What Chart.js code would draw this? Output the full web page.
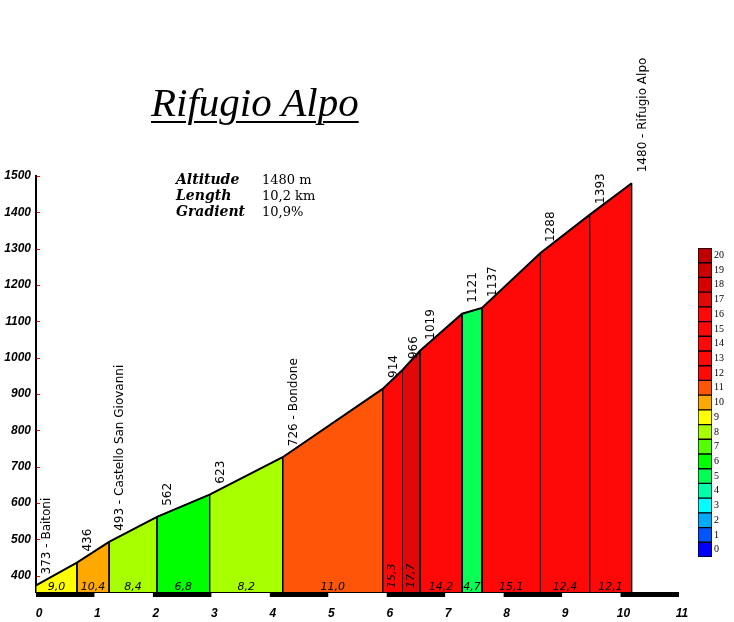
<!DOCTYPE html>
<html>
<head>
<meta charset="utf-8">
<script src="https://cdn.jsdelivr.net/npm/chart.js@4.4.0/dist/chart.umd.min.js"></script>
<style>
  body { margin: 0; background: #fff; }
  #campo { position: relative; width: 734px; height: 622px; overflow: hidden; }
  #profilo { position: absolute; left: 0; top: 0; }
  #legenda { position: absolute; left: 698px; top: 240px; }
  .titolo { position: absolute; left: 151px; top: 82px; font: italic 41px/40px "Liberation Serif"; color: #000;
            text-decoration: underline; text-decoration-thickness: 2px; text-underline-offset: 5px; white-space: nowrap; }
  .info { position: absolute; left: 176px; font: 13px/16px "DejaVu Serif"; color: #000; white-space: nowrap; }
  .info b { display: inline-block; width: 86px; font: italic bold 14px/16px "DejaVu Serif"; }
</style>
</head>
<body>
<div id="campo">
  <canvas id="profilo" width="734" height="622"></canvas>
  <canvas id="legenda" width="36" height="325"></canvas>
  <div class="titolo">Rifugio Alpo</div>
  <div class="info" style="top:171px"><b>Altitude</b>1480 m</div>
  <div class="info" style="top:187px"><b>Length</b>10,2 km</div>
  <div class="info" style="top:203px"><b>Gradient</b>10,9%</div>
</div>
<script>
// punti del profilo
const km = [0, 0.70, 1.25, 2.07, 2.97, 4.22, 5.93, 6.27, 6.57, 7.29, 7.63, 8.63, 9.47, 10.19];
const quote = [373, 436, 493, 562, 623, 726, 914, 966, 1019, 1121, 1137, 1288, 1393, 1480];
const nomi = ['Baitoni', '', 'Castello San Giovanni', '', '', 'Bondone', '', '', '', '', '', '', '', 'Rifugio Alpo'];

// tratti
const pendenze = ['9,0', '10,4', '8,4', '6,8', '8,2', '11,0', '15,3', '17,7', '14,2', '4,7', '15,1', '12,4', '12,1'];
const coloriTratti = ['#ffff00', '#ffa800', '#a8ff00', '#00ff00', '#a8ff00', '#ff5508', '#ff0808', '#e00808',
                      '#ff0808', '#08ff55', '#ff0808', '#ff0808', '#ff0808'];

// assi
const yMin = 355, yMax = 1500, yPasso = 100;
const xMin = 0, xMax = 11;

// legenda pendenze
const legendaLivelli = ['20', '19', '18', '17', '16', '15', '14', '13', '12', '11', '10',
                        '9', '8', '7', '6', '5', '4', '3', '2', '1', '0'];
const legendaColori = ['#c00000', '#cc0000', '#d80000', '#e20808', '#ff0808', '#ff0808', '#ff0808', '#ff0808',
                       '#ff0808', '#ff5508', '#ffa800', '#ffff00', '#a8ff00', '#55ff00', '#00ff00', '#00ff55',
                       '#00ffaa', '#00ffff', '#00aaff', '#0055ff', '#0000ff'];

const fontAssi = { family: 'Liberation Sans', size: 12, style: 'italic', weight: 'bold' };

// dataset: prima il profilo (disegnato sopra), poi un'area per tratto
const datasets = [{
  data: km.map((k, i) => ({ x: k, y: quote[i] })),
  borderColor: '#000',
  borderWidth: 2,
  fill: false
}];
for (let i = 0; i < pendenze.length; i++) {
  datasets.push({
    data: [
      { x: km[i], y: yMin },
      { x: km[i], y: quote[i] },
      { x: km[i + 1], y: quote[i + 1] },
      { x: km[i + 1], y: yMin }
    ],
    borderColor: '#000',
    borderWidth: 1,
    backgroundColor: coloriTratti[i],
    fill: 'start'
  });
}

const etichette = {
  id: 'etichette',
  afterDatasetsDraw(chart) {
    const { ctx, chartArea } = chart;
    const x = chart.scales.x, y = chart.scales.y;
    ctx.save();

    // tacche rosse sull'asse y
    ctx.strokeStyle = '#ff0000';
    ctx.lineWidth = 1;
    y.ticks.forEach(t => {
      const py = Math.round(y.getPixelForValue(t.value)) + 0.5;
      ctx.beginPath();
      ctx.moveTo(chartArea.left + 1, py);
      ctx.lineTo(chartArea.left + 4, py);
      ctx.stroke();
    });

    // quote e nomi, verticali
    ctx.fillStyle = '#000';
    ctx.font = '12px "DejaVu Sans"';
    ctx.textAlign = 'left';
    ctx.textBaseline = 'alphabetic';
    km.forEach((k, i) => {
      const px = x.getPixelForValue(k), py = y.getPixelForValue(quote[i]);
      const txt = nomi[i] ? quote[i] + ' - ' + nomi[i] : String(quote[i]);
      ctx.save();
      ctx.translate(px + 14, py - 11);
      ctx.rotate(-Math.PI / 2);
      ctx.fillText(txt, 0, 0);
      ctx.restore();
    });

    // pendenze in basso
    ctx.font = 'italic 11px "DejaVu Sans"';
    pendenze.forEach((p, i) => {
      const x0 = x.getPixelForValue(km[i]), x1 = x.getPixelForValue(km[i + 1]);
      const cx = (x0 + x1) / 2;
      const w = ctx.measureText(p).width;
      if (w + 2 < x1 - x0) {
        ctx.textAlign = 'center';
        ctx.fillText(p, cx, chartArea.bottom - 2);
      } else {
        ctx.save();
        ctx.translate(cx + 2.5, chartArea.bottom - 4);
        ctx.rotate(-Math.PI / 2);
        ctx.textAlign = 'left';
        ctx.fillText(p, 0, 0);
        ctx.restore();
      }
    });

    // barra dei chilometri
    const b = chartArea.bottom;
    ctx.fillStyle = '#000';
    ctx.fillRect(x.getPixelForValue(xMin), b, x.getPixelForValue(xMax) - x.getPixelForValue(xMin), 5);
    ctx.fillStyle = '#fff';
    for (let k = xMin + 1; k < xMax; k += 2) {
      const a = x.getPixelForValue(k), c = x.getPixelForValue(k + 1);
      ctx.fillRect(a, b + 1, c - a, 4);
    }
    ctx.restore();
  }
};

new Chart(document.getElementById('profilo'), {
  type: 'line',
  data: { datasets: datasets },
  options: {
    responsive: false,
    animation: false,
    layout: { padding: { top: 176, right: 55, bottom: 0, left: 0 } },
    elements: { point: { radius: 0, hoverRadius: 0 }, line: { tension: 0 } },
    plugins: { legend: { display: false }, tooltip: { enabled: false } },
    scales: {
      x: {
        type: 'linear',
        min: xMin,
        max: xMax,
        grid: { display: false, drawTicks: false },
        border: { display: false },
        ticks: { stepSize: 1, font: fontAssi, color: '#000', padding: 14, labelOffset: 3, maxRotation: 0,
                 callback: v => String(v) },
        afterFit: s => { s.height = 30; }
      },
      y: {
        min: yMin,
        max: yMax,
        grid: { display: false, drawTicks: false },
        border: { display: true, color: '#000', width: 2 },
        ticks: { stepSize: yPasso, includeBounds: false, font: fontAssi, color: '#000', padding: 5,
                 callback: v => String(v) },
        afterFit: s => { s.width = 36; }
      }
    }
  },
  plugins: [etichette]
});

new Chart(document.getElementById('legenda'), {
  type: 'bar',
  data: {
    labels: legendaLivelli,
    datasets: [{
      data: legendaLivelli.map(() => 1),
      backgroundColor: legendaColori,
      borderColor: '#000',
      borderWidth: 1,
      borderSkipped: false,
      barPercentage: 1,
      categoryPercentage: 1
    }]
  },
  options: {
    indexAxis: 'y',
    responsive: false,
    animation: false,
    layout: { padding: { top: 5, bottom: 5, left: 0, right: 0 } },
    plugins: { legend: { display: false }, tooltip: { enabled: false } },
    scales: {
      x: { display: false, min: 0, max: 1 },
      y: {
        position: 'right',
        grid: { display: false, drawTicks: false },
        border: { display: false },
        ticks: { autoSkip: false, color: '#000', padding: 2, font: { family: 'Liberation Serif', size: 10 } },
        afterFit: s => { s.width = 22; }
      }
    }
  }
});
</script>
</body>
</html>
